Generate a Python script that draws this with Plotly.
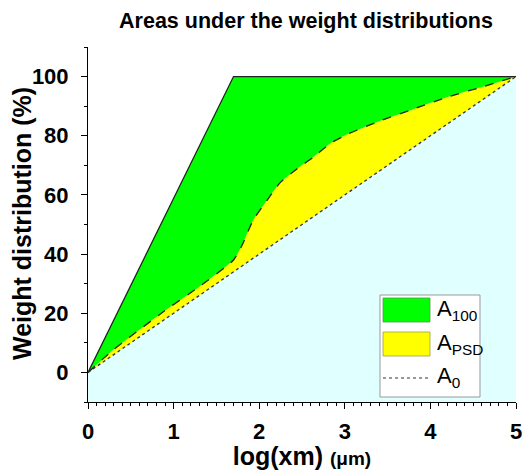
import plotly.graph_objects as go

# ---- data ----
x_a0 = [0, 5]
y_a0 = [0, 100]
x_a100 = [0, 1.7, 5]
y_a100 = [0, 100, 100]
x_psd = [0, 0.29, 0.88, 1.3, 1.7, 1.8, 1.93, 2.1, 2.24, 2.45, 2.63, 2.83, 3.03, 3.41, 3.8, 4.19, 4.58, 5.0]
y_psd = [0, 7.5, 20.5, 29, 38, 43, 51.5, 58.5, 64, 69, 72.7, 77.4, 80.5, 85, 89, 93, 96.3, 100]
y_floor = -10
x_ticks = [0, 1, 2, 3, 4, 5]
y_ticks = [0, 20, 40, 60, 80, 100]
legend_labels = ["A<sub>100</sub>", "A<sub>PSD</sub>", "A<sub>0</sub>"]
legend_colors = ["#00ff00", "#ffff00"]

# plot-area geometry in pixels (used to place the hand-drawn legend)
L, R, T, B = 88, 8, 47, 68
W, H = 524, 470
PW, PH = W - L - R, H - T - B
def px(xp):
    return (xp - L) / PW
def py(yp):
    return (H - B - yp) / PH

fig = go.Figure()
fig.add_trace(go.Scatter(x=[x_a0[0], x_a0[-1]], y=[y_floor, y_floor], mode="lines",
                         line=dict(width=0), showlegend=False, hoverinfo="skip"))
fig.add_trace(go.Scatter(x=x_a0, y=y_a0, mode="lines", fill="tonexty", fillcolor="#e0ffff",
                         line=dict(width=0), showlegend=False, hoverinfo="skip"))
fig.add_trace(go.Scatter(x=x_psd, y=y_psd, mode="lines", fill="tonexty", fillcolor="#ffff00",
                         line=dict(width=0, shape="spline", smoothing=0.5), showlegend=False))
fig.add_trace(go.Scatter(x=x_a100, y=y_a100, mode="lines", fill="tonexty", fillcolor="#00ff00",
                         line=dict(width=0), showlegend=False))
fig.add_trace(go.Scatter(x=x_a100, y=y_a100, mode="lines", line=dict(color="#222222", width=1.3),
                         showlegend=False))
fig.add_trace(go.Scatter(x=x_psd, y=y_psd, mode="lines",
                         line=dict(color="#222222", width=1.3, dash="dash", shape="spline", smoothing=0.5),
                         showlegend=False))
fig.add_trace(go.Scatter(x=x_a0, y=y_a0, mode="lines", line=dict(color="#333333", width=1.3, dash="dot"),
                         showlegend=False))

# hand-drawn legend (matching the reference's box style)
shapes = [
    dict(type="rect", xref="paper", yref="paper", x0=px(380), x1=px(480), y0=py(397), y1=py(295),
         line=dict(color="#999999", width=1), fillcolor="white", layer="above"),
    dict(type="rect", xref="paper", yref="paper", x0=px(383), x1=px(430), y0=py(322), y1=py(298),
         line=dict(color="#4f9a4f", width=0.8), fillcolor=legend_colors[0], layer="above"),
    dict(type="rect", xref="paper", yref="paper", x0=px(383), x1=px(430), y0=py(356), y1=py(332),
         line=dict(color="#a0a040", width=0.8), fillcolor=legend_colors[1], layer="above"),
    dict(type="line", xref="paper", yref="paper", x0=px(383), x1=px(428), y0=py(378), y1=py(378),
         line=dict(color="#333333", width=1.2, dash="dot"), layer="above"),
]
annotations = []
for lab, ycen in zip(legend_labels, [310, 344, 377]):
    annotations.append(dict(text=lab, xref="paper", yref="paper", x=px(435), y=py(ycen),
                            xanchor="left", yanchor="middle", showarrow=False,
                            font=dict(size=22, family="Liberation Sans, Arial", color="black")))
# y-axis title placed as an annotation
annotations.append(dict(text="Weight distribution (%)", xref="paper", yref="paper",
                        x=px(22), y=py(224), xanchor="center", yanchor="middle", textangle=-90,
                        showarrow=False, font=dict(size=25, weight="bold",
                                                   family="Liberation Sans, Arial", color="black")))

fig.update_layout(
    width=W, height=H,
    margin=dict(l=L, r=R, t=T, b=B),
    plot_bgcolor="white", paper_bgcolor="white",
    font=dict(family="Liberation Sans, Arial", color="black"),
    title=dict(text="Areas under the weight distributions", x=px(306), xref="paper",
               y=1 - 20 / H, yref="container", xanchor="center", yanchor="middle",
               font=dict(size=21.5, weight="bold")),
    showlegend=False,
    shapes=shapes,
    annotations=annotations,
)
fig.update_xaxes(range=[0, 5], tickvals=x_ticks, ticktext=[str(v) for v in x_ticks], automargin=False,
                 showline=True, linecolor="black", linewidth=1, ticks="outside", ticklen=6,
                 tickcolor="black", showgrid=False, zeroline=False, ticklabelstandoff=4,
                 tickfont=dict(size=22, weight="bold"),
                 minor=dict(dtick=0.1, ticks="outside", ticklen=3, tickcolor="black", showgrid=False),
                 title=dict(text="log(xm) <span style='font-size:19px'>(μm)</span>",
                            font=dict(size=25, weight="bold"), standoff=4))
fig.update_yaxes(range=[-10, 110], tickvals=y_ticks, ticktext=[str(v) for v in y_ticks], automargin=False,
                 showline=True, linecolor="black", linewidth=1, ticks="outside", ticklen=6,
                 tickcolor="black", showgrid=False, zeroline=False, ticklabelstandoff=8,
                 tickfont=dict(size=22, weight="bold"),
                 minor=dict(dtick=10, ticks="outside", ticklen=3, tickcolor="black", showgrid=False))

fig.write_html("out.html", config={"displayModeBar": False},
               post_script="document.body.style.margin='0px';")
